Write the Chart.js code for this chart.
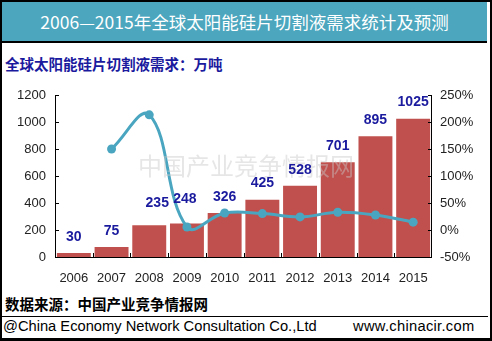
<!DOCTYPE html>
<html><head><meta charset="utf-8">
<script src="https://cdn.jsdelivr.net/npm/chart.js@4/dist/chart.umd.min.js"></script>
<style>
html,body{margin:0;padding:0;background:#fff;}
#wrap{position:relative;width:492px;height:341px;overflow:hidden;background:#fff;}
#frame{position:absolute;left:0;top:0;width:488px;height:336px;border-left:2px solid #000;border-top:2px solid #000;border-right:3px solid #000;border-bottom:3px solid #000;box-sizing:content-box;}
#title{position:absolute;left:2px;top:2px;width:485px;height:39px;background:#4BA6BE;border-bottom:2px solid #000;color:#fff;font:17.5px "Noto Sans CJK SC",sans-serif;line-height:39px;text-align:center;}
#sub{position:absolute;left:5px;top:53px;color:#1A1A9E;font:bold 14.5px "Noto Sans CJK SC",sans-serif;}
#src{position:absolute;left:5px;top:293px;color:#000;font:bold 14.5px "Noto Sans CJK SC",sans-serif;}
#line{position:absolute;left:2px;top:316px;width:486px;height:1px;background:#000;}
#copy{position:absolute;left:3px;top:318px;color:#000;font:14.7px "Liberation Sans",Arial,sans-serif;}
#web{position:absolute;left:353px;top:318px;color:#000;font:14.7px "Liberation Sans",Arial,sans-serif;letter-spacing:0.3px;}
canvas{position:absolute;left:0;top:0;}
</style></head>
<body>
<div id="wrap">
<div id="frame"></div>
<div id="title">2006—2015年全球太阳能硅片切割液需求统计及预测</div>
<div id="sub">全球太阳能硅片切割液需求：万吨</div>
<div id="src">数据来源：中国产业竞争情报网</div>
<div id="line"></div>
<div id="copy">@China Economy Network Consultation Co.,Ltd</div>
<div id="web">www.chinacir.com</div>
<canvas id="c" width="492" height="341"></canvas>
</div>
<script>
const years = ['2006','2007','2008','2009','2010','2011','2012','2013','2014','2015'];
const demand = [30, 75, 235, 248, 326, 425, 528, 701, 895, 1025];
const growthPct = [null, 150, 213.3, 5.5, 31.5, 30.4, 24.2, 32.8, 27.7, 14.5];
const leftTicks = [0, 200, 400, 600, 800, 1000, 1200];
const rightTicks = [-50, 0, 50, 100, 150, 200, 250];

const tickFont = {family: '"Liberation Sans", Arial, sans-serif', size: 13};

const deco = {
  id: 'deco',
  afterDatasetsDraw(chart) {
    const ctx = chart.ctx;
    const a = chart.chartArea;
    const x = chart.scales.x, y = chart.scales.y, y1 = chart.scales.y1;
    ctx.save();
    ctx.strokeStyle = '#000'; ctx.lineWidth = 1;
    ctx.beginPath();
    ctx.moveTo(Math.round(a.left)+0.5, a.top); ctx.lineTo(Math.round(a.left)+0.5, a.bottom+0.5);
    ctx.moveTo(Math.round(a.right)-0.5, a.top); ctx.lineTo(Math.round(a.right)-0.5, a.bottom+0.5);
    ctx.moveTo(a.left, Math.round(a.bottom)+0.5); ctx.lineTo(a.right, Math.round(a.bottom)+0.5);
    leftTicks.forEach(v => { const p = Math.round(y.getPixelForValue(v))+0.5; ctx.moveTo(a.left, p); ctx.lineTo(a.left+4, p); });
    rightTicks.forEach(v => { const p = Math.round(y1.getPixelForValue(v))+0.5; ctx.moveTo(a.right, p); ctx.lineTo(a.right-4, p); });
    for (let i = 1; i < years.length; i++) {
      const p = Math.round((x.getPixelForValue(i-1)+x.getPixelForValue(i))/2)+0.5;
      ctx.moveTo(p, a.bottom); ctx.lineTo(p, a.bottom-4);
    }
    ctx.stroke();
    ctx.restore();
  },
  afterDraw(chart, args, opts) {
    const ctx = chart.ctx;
    const meta = chart.getDatasetMeta(1);
    ctx.save();
    ctx.fillStyle = 'rgba(200,200,200,0.45)';
    ctx.font = '24px "Noto Sans CJK SC", serif';
    ctx.textAlign = 'center'; ctx.textBaseline = 'middle';
    ctx.fillText('中国产业竞争情报网', 246, 166);
    ctx.fillStyle = '#1A1A9E';
    ctx.font = 'bold 14px "Liberation Sans", Arial, sans-serif';
    meta.data.forEach((bar, i) => {
      const off = opts.shift[i] || [0, -16];
      ctx.fillText(String(demand[i]), bar.x + off[0], bar.y + off[1]);
    });
    ctx.restore();
  }
};

new Chart(document.getElementById('c'), {
  data: {
    labels: years,
    datasets: [
      {type: 'line', data: growthPct, yAxisID: 'y1', order: 0,
       borderColor: '#4AA6C0', backgroundColor: '#4AA6C0', borderWidth: 3,
       pointRadius: 4.5, pointBackgroundColor: '#4AA6C0', pointBorderWidth: 0,
       tension: 0.4, cubicInterpolationMode: 'default'},
      {type: 'bar', data: demand, yAxisID: 'y', order: 1,
       backgroundColor: '#C0504D', barPercentage: 0.9, categoryPercentage: 1.0}
    ]
  },
  options: {
    responsive: false, animation: false,
    layout: {padding: {left: 0, right: 0, top: 95, bottom: 54}},
    plugins: {legend: {display: false}, tooltip: {enabled: false},
      deco: {shift: {2: [8, -22], 3: [-2, -24]}}},
    scales: {
      x: {offset: true, grid: {display: false, drawTicks: false}, border: {display: false},
          ticks: {color: '#222', font: tickFont, padding: 14, maxRotation: 0},
          afterFit(s) { s.height = 30; }},
      y: {position: 'left', min: 0, max: 1200, grid: {display: false, drawTicks: false}, border: {display: false},
          ticks: {stepSize: 200, color: '#222', font: tickFont, padding: 9, callback: v => String(v)},
          afterFit(s) { s.width = 55; }},
      y1: {position: 'right', min: -50, max: 250, grid: {display: false, drawTicks: false}, border: {display: false},
          ticks: {stepSize: 50, color: '#222', font: tickFont, padding: 8, callback: v => v + '%'},
          afterFit(s) { s.width = 60; }}
    }
  },
  plugins: [deco]
});
</script>
</body></html>
